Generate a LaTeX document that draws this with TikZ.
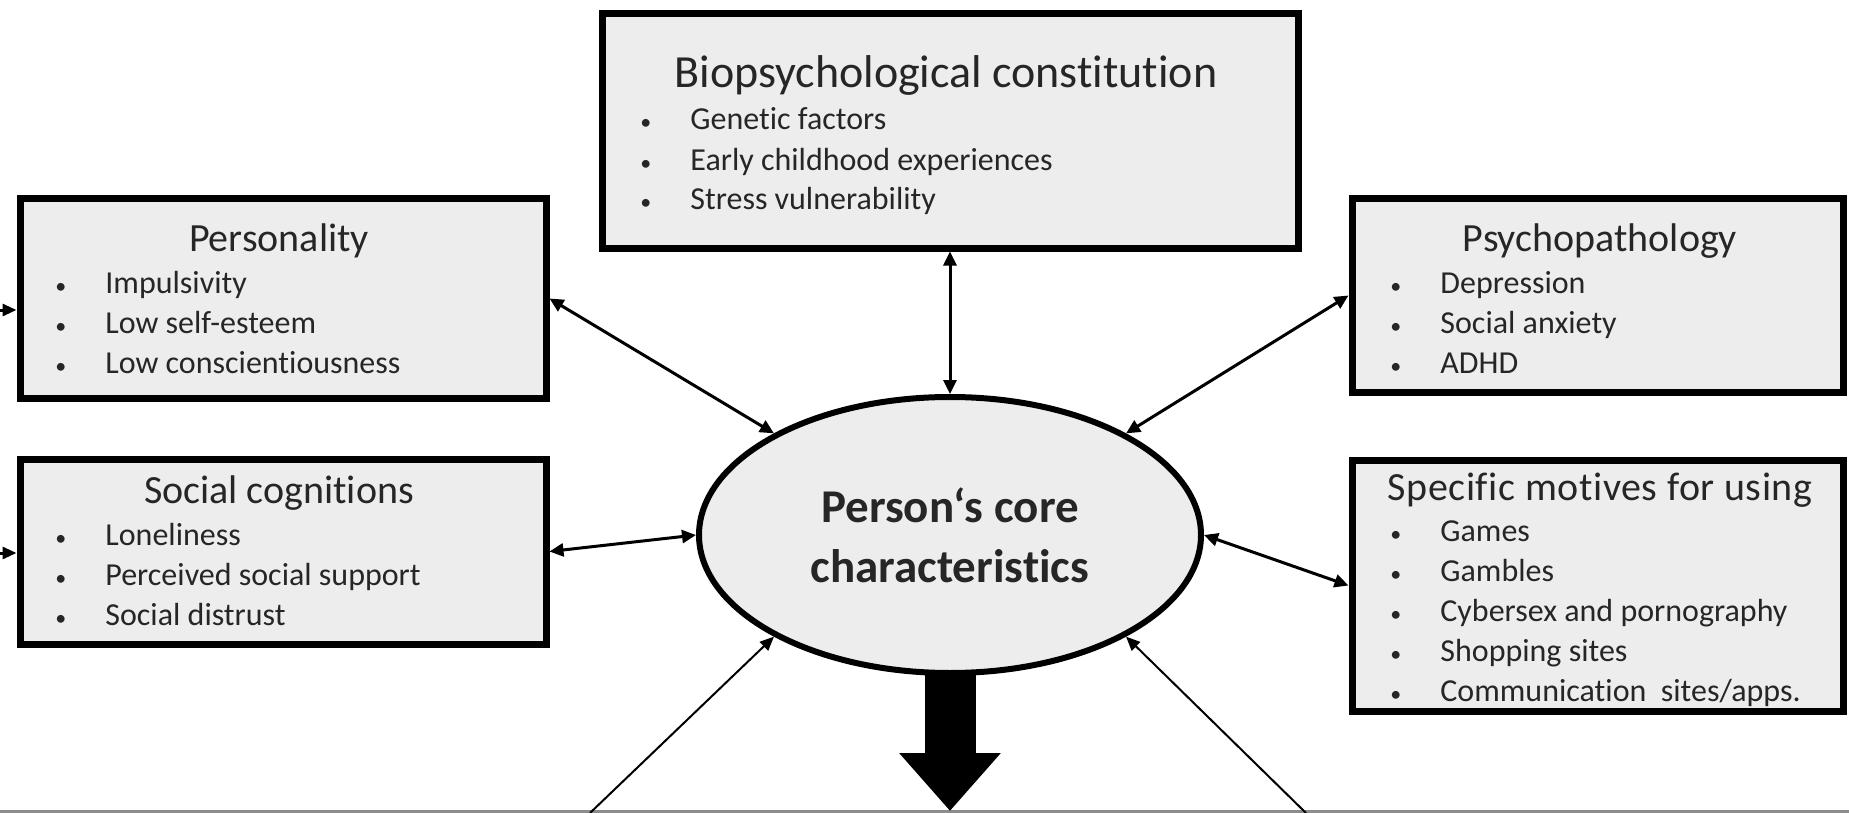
\documentclass[tikz,border=0pt]{standalone}
\usepackage{fontspec}
\setmainfont[Ligatures=NoCommon]{Carlito}
\usetikzlibrary{arrows.meta,shapes.geometric}
\definecolor{boxgray}{HTML}{EDEDED}
\definecolor{rulegray}{HTML}{8C8C8C}
\definecolor{inkgray}{HTML}{262626}

\begin{document}
\begin{tikzpicture}[x=0.5pt,y=-0.5pt,
  box/.style={draw,line width=3.5pt,fill=boxgray,inner sep=0pt},
  core/.style={ellipse,draw,line width=3pt,fill=boxgray,inner sep=0pt,align=center,
    font=\fontsize{23.5pt}{30pt}\selectfont\bfseries,text=inkgray},
  boxhead/.style={anchor=base,inner sep=0pt,text=inkgray,font=\fontsize{20pt}{24pt}\selectfont},
  boxitem/.style={anchor=base west,inner sep=0pt,text=inkgray,font=\fontsize{16pt}{19pt}\selectfont},
  boxdot/.style={boxitem,font=\fontsize{11pt}{13pt}\selectfont},
  link/.style={line width=1.5pt,{Triangle[length=7pt,width=6.5pt]}-{Triangle[length=7pt,width=6.5pt]}},
  feed/.style={line width=1pt,-{Triangle[length=7pt,width=6pt]}}]
\newcommand{\itemrows}[4]{
  \foreach \txt [count=\i] in {#4} {
    \node[boxdot] (#1-b\i) at (#2,{#3+40*(\i-1)}) {\textbullet};
    \node[boxitem] (#1-\i) at ({#2+50},{#3+40*(\i-1)}) {\txt};
  }
}
\useasboundingbox (0,0) rectangle (1849,813);

% cut edge at the bottom
\draw[rulegray,line width=1.5pt] (0,811) -- (1849,811);

% the five boxes round the core
\node[box,minimum width=348pt,minimum height=117pt] (bio) at (950,131) {};
\node[box,minimum width=263pt,minimum height=99.5pt] (pers) at (283,298.5) {};
\node[box,minimum width=263pt,minimum height=92.5pt] (soc) at (283,551.5) {};
\node[box,minimum width=245.5pt,minimum height=96.5pt] (psy) at (1597.5,295.5) {};
\node[box,minimum width=245.5pt,minimum height=125.5pt] (mot) at (1597.5,585.5) {};
\node[core,minimum width=251pt,minimum height=138pt] (core) at (950,535) {Person‘s core\\characteristics};

%headings:
\node[boxhead] (bio-t) at (946,88) {\fontsize{23pt}{27pt}\selectfont Biopsychological constitution};
\node[boxhead] (pers-t) at (279,251) {Personality};
\node[boxhead] (soc-t) at (279,503) {Social cognitions};
\node[boxhead] (psy-t) at (1600,251) {Psychopathology};
\node[boxhead] (mot-t) at (1600,500) {\addfontfeature{LetterSpace=1.5}Specific motives for using};

%bullet lists:
\itemrows{bio}{640}{130}{Genetic factors, Early childhood experiences, Stress vulnerability}
\itemrows{pers}{55}{293}{Impulsivity, Low self-esteem, Low conscientiousness}
\itemrows{soc}{55}{545}{Loneliness, Perceived social support, Social distrust}
\itemrows{psy}{1390}{293}{Depression, Social anxiety, ADHD}
\itemrows{mot}{1390}{541}{Games, Gambles, Cybersex and pornography, Shopping sites, Communication\ \ sites/apps.}

% two way links
\draw[link] (bio.south) -- (core.north);
\draw[link] (pers.east) -- (core.150);
\draw[link] (psy.west) -- (core.30);
\draw[link] (soc.east) -- (core.west);
\draw[link] (mot.west) -- (core.east);

% arrows cut off by the frame
\coordinate (pers-in) at (0,310);
\coordinate (soc-in) at (0,553);
\coordinate (low-l) at (590,813);
\coordinate (low-r) at (1306,813);
\coordinate (out) at (950,811);
\draw[feed,line width=1.5pt] (pers-in) -- (pers-in -| pers.west);
\draw[feed,line width=1.5pt] (soc-in) -- (soc-in -| soc.west);
\draw[feed] (low-l) -- (core.210);
\draw[feed] (low-r) -- (core.330);
\draw[line width=25.5pt,shorten <=-2pt,-{Triangle[length=29pt,width=49pt]}] (core.south) -- (out);
\end{tikzpicture}
\end{document}
